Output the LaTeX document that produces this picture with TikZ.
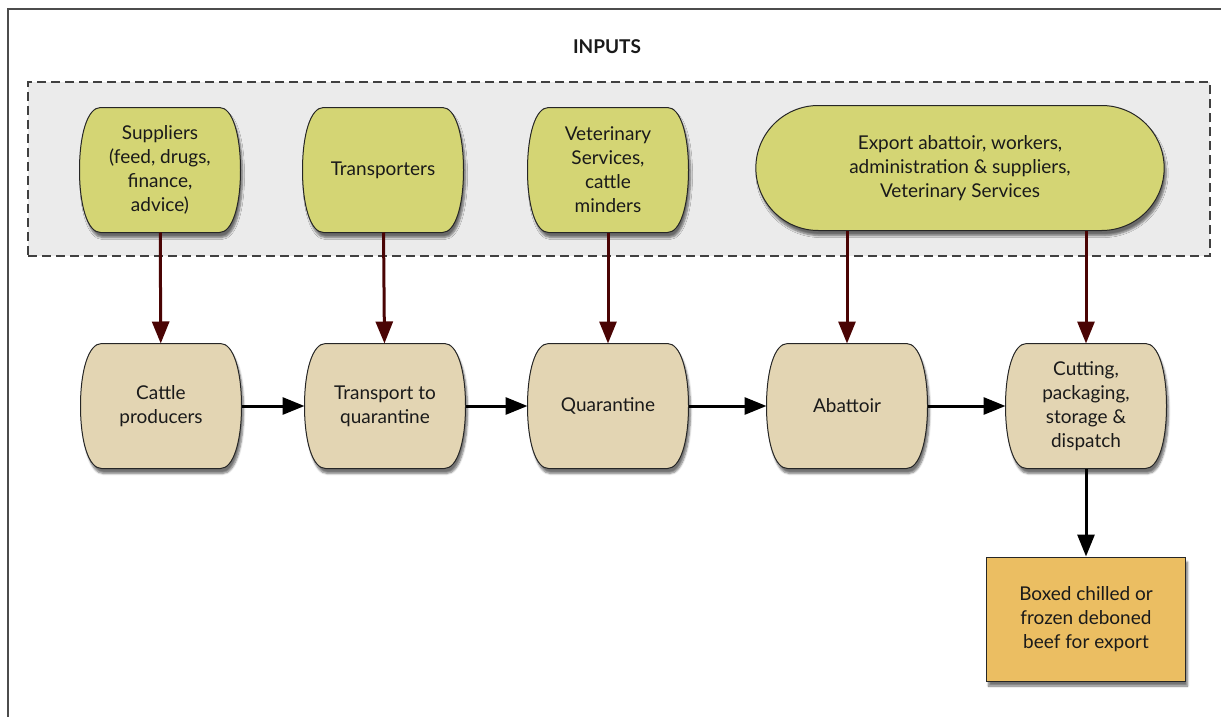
\documentclass[tikz,border=0pt]{standalone}
\usepackage{fontspec}
\setmainfont{Lato}
\usetikzlibrary{arrows.meta,shapes.misc,shadows.blur}

\definecolor{InputFill}{HTML}{D4D574}
\definecolor{StageFill}{HTML}{E3D5B3}
\definecolor{OutputFill}{HTML}{EBBE62}
\definecolor{AreaFill}{HTML}{EBEBEB}
\definecolor{FeedRed}{HTML}{4A0404}
\definecolor{TextDark}{HTML}{1A1A1A}

% barrel shaped block: name, centre, fill, text
\newcommand{\BarrelBlock}[4]{%
    \draw[BarrelLine, fill=#3, shift={#2}]
        (-59.5,-62.5) -- (59.5,-62.5) .. controls (72.5,-62.5) and (80.5,-35.5) .. (80.5,0)
        .. controls (80.5,35.5) and (72.5,62.5) .. (59.5,62.5)
        -- (-59.5,62.5) .. controls (-72.5,62.5) and (-80.5,35.5) .. (-80.5,0)
        .. controls (-80.5,-35.5) and (-72.5,-62.5) .. cycle;
    \node[Barrel] (#1) at #2 {#4};
}

\begin{document}
\begin{tikzpicture}[
                x=1pt, y=-1pt,
                font=\fontsize{19}{24}\selectfont,
                Soft/.style={blur shadow={shadow xshift=2pt, shadow yshift=-5pt, shadow blur steps=6, shadow opacity=55}},
                Barrel/.style={rectangle, minimum width=161pt, minimum height=125pt, inner sep=2pt, outer sep=0pt,
                    align=center, text=TextDark},
                BarrelLine/.style={draw=black!85, line width=1pt, Soft},
                ExportBlock/.style={rounded rectangle, draw=black!85, line width=1pt, fill=InputFill, align=center,
                    text=TextDark, minimum width=415pt, minimum height=125pt, Soft},
                OutputBlock/.style={rectangle, draw=black!85, line width=1pt, fill=OutputFill, align=center, text=TextDark,
                    minimum width=199pt, minimum height=124pt, Soft},
                InputArea/.style={rectangle, draw=black!75, line width=1.2pt, dash pattern=on 9pt off 5pt, fill=AreaFill,
                    minimum width=1182pt, minimum height=174pt},
                FeedArrow/.style={draw=FeedRed, line width=3pt, -{Triangle[length=22pt, width=17pt]}},
                FlowArrow/.style={draw=black, line width=3pt, -{Triangle[length=22pt, width=17pt]}},
            ]
            \useasboundingbox (0,0) rectangle (1221,717);
            % frame and input area
            \draw[draw=black!70, line width=1.2pt] (8,9) rectangle (1240,740);
            \node[font=\fontsize{19}{20}\selectfont\bfseries, text=TextDark] (title) at (607,47) {INPUTS};
            \node[InputArea] (inputs) at (619,169) {};

            % inputs
            \BarrelBlock{suppliers}{(160,170)}{InputFill}{Suppliers\\(feed, drugs,\\finance,\\advice)}
            \BarrelBlock{transporters}{(383,170)}{InputFill}{Transporters}
            \BarrelBlock{vets}{(608,170)}{InputFill}{Veterinary\\Services,\\cattle\\minders}
            \node [ExportBlock] (export) at (960,168)
                {Export abattoir, workers,\\administration \& suppliers,\\Veterinary Services};

            % stages
            \BarrelBlock{producers}{(161,406)}{StageFill}{Cattle\\producers}
            \BarrelBlock{transport}{(385,406)}{StageFill}{Transport to\\quarantine}
            \BarrelBlock{quarantine}{(608,406)}{StageFill}{Quarantine}
            \BarrelBlock{abattoir}{(847,406)}{StageFill}{Abattoir}
            \BarrelBlock{cutting}{(1086,406)}{StageFill}{Cutting,\\packaging,\\storage \&\\dispatch}
            \node [OutputBlock] (beef) at (1086,619) {Boxed chilled or\\frozen deboned\\beef for export};

            % connectors
            \draw[FeedArrow] (suppliers) -- (producers);
            \draw[FeedArrow] (transporters) -- (transport);
            \draw[FeedArrow] (vets) -- (quarantine);
            \draw[FeedArrow] (export.south -| abattoir.north) -- (abattoir.north);
            \draw[FeedArrow] (export.south -| cutting.north) -- (cutting.north);
            \draw[FlowArrow] (producers) -- (transport);
            \draw[FlowArrow] (transport) -- (quarantine);
            \draw[FlowArrow] (quarantine) -- (abattoir);
            \draw[FlowArrow] (abattoir) -- (cutting);
            \draw[FlowArrow] (cutting) -- (beef);
        \end{tikzpicture}
\end{document}
